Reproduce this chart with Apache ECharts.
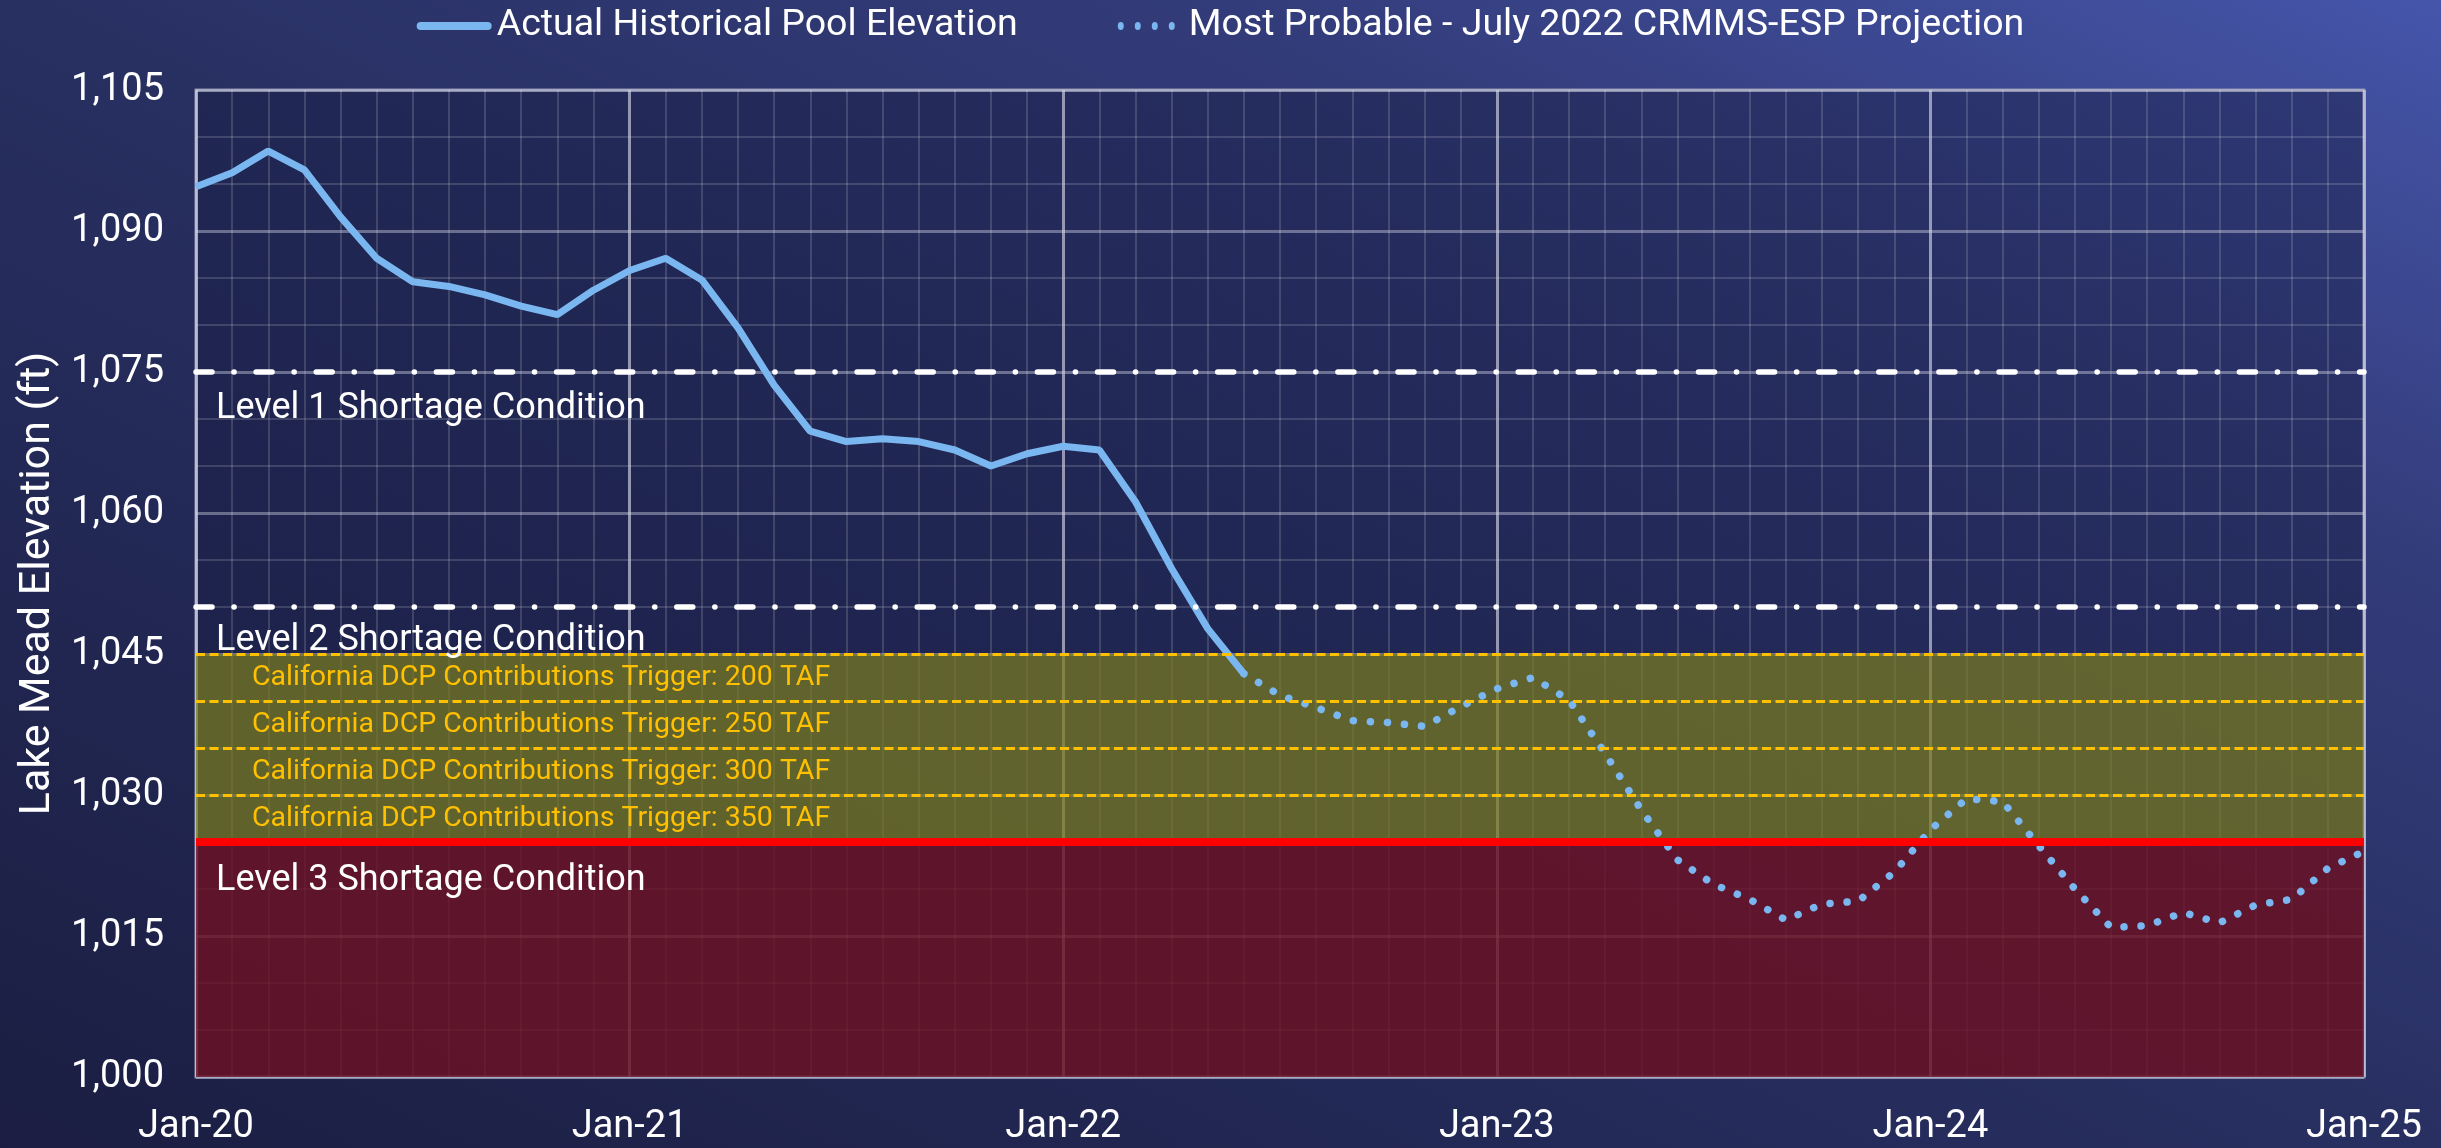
<!DOCTYPE html>
<html>
<head>
<meta charset="utf-8">
<script src="https://cdn.jsdelivr.net/npm/echarts@6/dist/echarts.min.js"></script>
<style>
html,body{margin:0;padding:0;width:2441px;height:1148px;overflow:hidden;}
#chart{width:2441px;height:1148px;}
</style>
</head>
<body>
<div id="chart"></div>
<script>
// ---- data ----
const xTickLabels = ['Jan-20', 'Jan-21', 'Jan-22', 'Jan-23', 'Jan-24', 'Jan-25'];
const seriesNames = ['Actual Historical Pool Elevation', 'Most Probable - July 2022 CRMMS-ESP Projection'];

// months counted from Jan-2020 (index 0)
const historyStartMonth = 0;
const historyValues = [
  1094.7, 1096.2, 1098.5, 1096.5, 1091.5, 1087.1, 1084.6, 1084.1, 1083.2, 1082.0,
  1081.1, 1083.7, 1085.8, 1087.1, 1084.8, 1079.7, 1073.6, 1068.7, 1067.6, 1067.9,
  1067.6, 1066.7, 1065.0, 1066.3, 1067.1, 1066.7, 1061.2, 1054.1, 1047.7, 1042.9
];
const projectionStartMonth = 29;
const projectionValues = [
  1042.9, 1040.6, 1039.3, 1037.9, 1037.7, 1037.3, 1039.4, 1041.3, 1042.5, 1040.1,
  1034.4, 1028.4, 1023.1, 1020.5, 1018.9, 1016.7, 1018.4, 1018.7, 1021.8, 1026.3,
  1029.6, 1029.3, 1024.6, 1020.0, 1015.9, 1016.1, 1017.5, 1016.4, 1018.3, 1018.9,
  1022.2, 1024.0
];

const shortageLevels = [1075, 1050];
const shortageLabels = ['Level 1 Shortage Condition', 'Level 2 Shortage Condition'];
const level3Value = 1025;
const level3Label = 'Level 3 Shortage Condition';
const dcpTriggers = [1045, 1040, 1035, 1030];
const dcpLabels = [
  'California DCP Contributions Trigger: 200 TAF',
  'California DCP Contributions Trigger: 250 TAF',
  'California DCP Contributions Trigger: 300 TAF',
  'California DCP Contributions Trigger: 350 TAF'
];
const yMin = 1000, yMax = 1105, yStep = 15;
const xMin = 0, xMax = 60, xStep = 12;

// ---- build ----
const histData = historyValues.map((v, i) => [historyStartMonth + i, v]);
const projData = projectionValues.map((v, i) => [projectionStartMonth + i, v]);

const FONT = 'Roboto';
const lineBlue = '#7ab6ef';
const W = 2441, H = 1148;
const gLen = 2 * W * H / (W * W + H * H);

const dcpAreas = dcpTriggers.map((top, i) => [
  { yAxis: top - 5, name: dcpLabels[i] },
  { yAxis: top }
]);

// legend icons
const solidIcon = 'path://M4,0 L71,0 A4,4 0 0 1 71,8 L4,8 A4,4 0 0 1 4,0 Z';
function dotsPath() {
  let p = 'path://';
  [4, 21, 38, 55].forEach(cx => {
    p += 'M' + (cx - 3) + ',4 A3,4 0 1 0 ' + (cx + 3) + ',4 A3,4 0 1 0 ' + (cx - 3) + ',4 Z ';
  });
  return p;
}

const chart = echarts.init(document.getElementById('chart'), null, { renderer: 'canvas' });
chart.setOption({
  animation: false,
  backgroundColor: {
    type: 'linear', global: true,
    x: 0, y: H, x2: H * gLen * H / H, y2: H - W * gLen * H / H,
    colorStops: [
      { offset: 0, color: '#1b1e42' },
      { offset: 0.5, color: '#283062' },
      { offset: 0.75, color: '#333c7a' },
      { offset: 1, color: '#4555aa' }
    ]
  },
  textStyle: { fontFamily: FONT },
  legend: {
    top: 2,
    left: 'center',
    itemWidth: 75,
    itemHeight: 8,
    itemGap: 100,
    textStyle: { color: '#ffffff', fontSize: 37.5, fontFamily: FONT },
    data: [
      { name: seriesNames[0], icon: solidIcon, itemStyle: { color: lineBlue } },
      { name: seriesNames[1], icon: dotsPath(), itemStyle: { color: lineBlue } }
    ]
  },
  grid: {
    left: 196, right: 77, top: 90, bottom: 71,
    show: true,
    backgroundColor: 'rgba(24,28,66,0.45)',
    borderColor: '#8d90b0',
    borderWidth: 3
  },
  xAxis: {
    type: 'value', min: xMin, max: xMax, interval: xStep,
    axisLine: { show: false }, axisTick: { show: false },
    axisLabel: {
      color: '#ffffff', fontSize: 38, margin: 31, fontFamily: FONT,
      formatter: v => xTickLabels[Math.round(v / xStep)]
    },
    splitLine: { show: true, lineStyle: { color: 'rgba(210,212,228,0.65)', width: 3 } },
    minorTick: { show: false, splitNumber: 12 },
    minorSplitLine: { show: true, lineStyle: { color: 'rgba(255,255,255,0.2)', width: 1.5 } }
  },
  yAxis: {
    type: 'value', min: yMin, max: yMax, interval: yStep,
    name: 'Lake Mead Elevation (ft)',
    nameLocation: 'middle', nameRotate: 90, nameGap: 130,
    nameTextStyle: { color: '#ffffff', fontSize: 43, fontFamily: FONT },
    axisLine: { show: false }, axisTick: { show: false },
    axisLabel: {
      color: '#ffffff', fontSize: 38, margin: 32, fontFamily: FONT,
      formatter: v => v.toLocaleString('en-US')
    },
    splitLine: { show: true, lineStyle: { color: 'rgba(200,202,220,0.45)', width: 3 } },
    minorTick: { show: false, splitNumber: 3 },
    minorSplitLine: { show: true, lineStyle: { color: 'rgba(255,255,255,0.2)', width: 1.5 } }
  },
  series: [
    {
      name: 'bands', type: 'line', data: [], z: 1, silent: true,
      markArea: {
        silent: true,
        data: [
          [
            { yAxis: yMin, itemStyle: { color: 'rgba(108,18,36,0.82)' } },
            { yAxis: level3Value }
          ]
        ].concat(dcpAreas.map(a => [
          Object.assign({}, a[0], {
            itemStyle: { color: 'rgba(122,124,32,0.72)' },
            label: {
              show: true, position: 'insideLeft', distance: 56,
              color: '#ffc000', fontSize: 28.5, fontFamily: FONT
            }
          }),
          a[1]
        ]))
      }
    },
    {
      name: seriesNames[0], type: 'line', data: histData, z: 3,
      symbol: 'none', showSymbol: false,
      lineStyle: { color: lineBlue, width: 7 },
      itemStyle: { color: lineBlue }
    },
    {
      name: seriesNames[1], type: 'line', data: projData, z: 3,
      symbol: 'none', showSymbol: false,
      lineStyle: { color: lineBlue, width: 7.5, type: [0.1, 17], cap: 'round' },
      itemStyle: { color: lineBlue }
    },
    {
      name: 'refs', type: 'line', data: [], z: 4, silent: true,
      markLine: {
        silent: true, symbol: 'none',
        data: [
          ...dcpTriggers.map(v => ({
            yAxis: v,
            lineStyle: { color: '#ffc000', width: 3, type: [9, 4.5] },
            label: { show: false }
          })),
          ...shortageLevels.map((v, i) => ({
            yAxis: v, name: shortageLabels[i],
            lineStyle: { color: '#ffffff', width: 5.5, type: [16, 22, 0.1, 22], cap: 'round' },
            label: {
              show: true, position: 'insideStartBottom', distance: [20, i === 0 ? 19 : 16],
              formatter: '{b}', color: '#ffffff', fontSize: 36, fontFamily: FONT
            }
          })),
          {
            yAxis: level3Value, name: level3Label,
            lineStyle: { color: '#ff0000', width: 8, type: 'solid' },
            label: {
              show: true, position: 'insideStartBottom', distance: [20, 21],
              formatter: '{b}', color: '#ffffff', fontSize: 36, fontFamily: FONT
            }
          }
        ]
      }
    }
  ]
});
</script>
</body>
</html>
